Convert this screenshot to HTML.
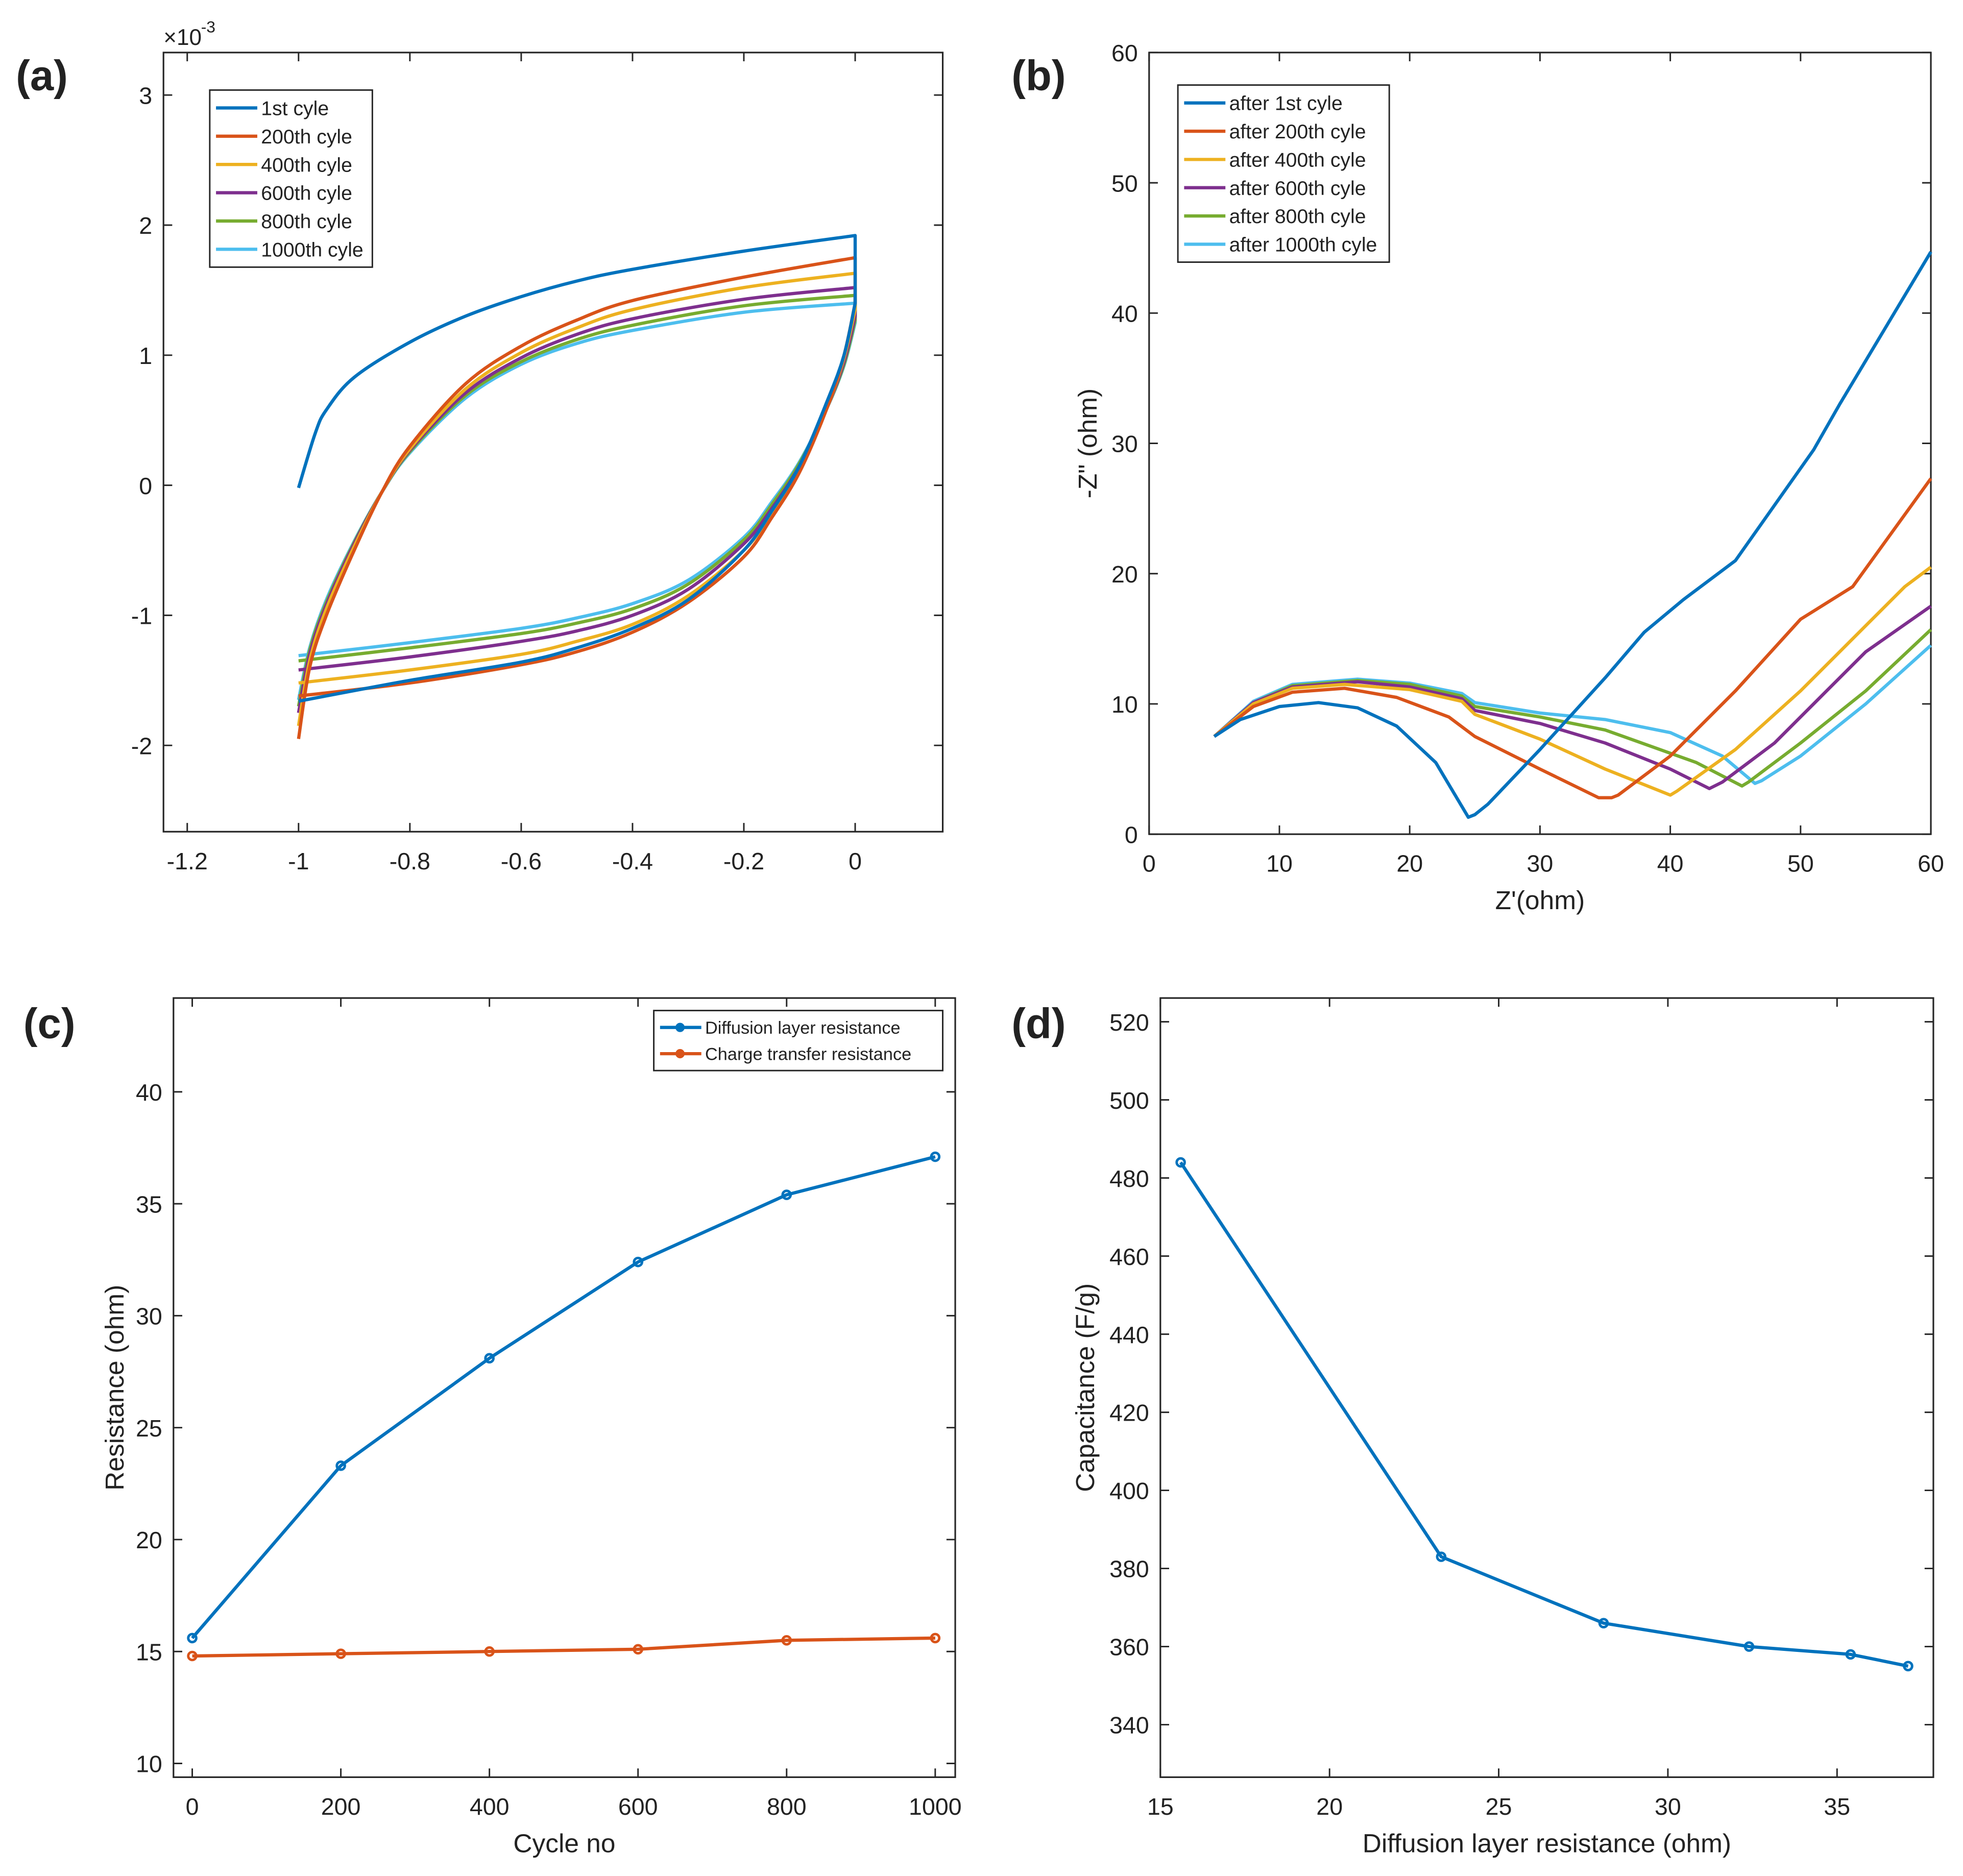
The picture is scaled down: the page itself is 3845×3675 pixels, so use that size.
<!DOCTYPE html>
<html><head><meta charset="utf-8"><style>
html,body{margin:0;padding:0;background:#fff}
svg{display:block}
text{font-family:"Liberation Sans",Arial,sans-serif;fill:#222}
</style></head><body>
<svg id="root" width="3845" height="3675" viewBox="0 0 1568 1500" xmlns="http://www.w3.org/2000/svg"></svg>
<script>
const C=['#0072BD','#D95319','#EDB120','#7E2F8E','#77AC30','#4DBEEE'];
// ---- panel (a) CV data ----
const cvNames=['1st cyle','200th cyle','400th cyle','600th cyle','800th cyle','1000th cyle'];
const cvX=[
[-1,-0.97,-0.95,-0.9,-0.8,-0.7,-0.6,-0.5,-0.4,-0.2,0,0,-0.02,-0.05,-0.1,-0.15,-0.2,-0.3,-0.4,-0.5,-0.6,-0.8,-1],
[-1,-0.98,-0.95,-0.9,-0.85,-0.8,-0.7,-0.6,-0.5,-0.4,-0.2,0,0,-0.02,-0.05,-0.1,-0.15,-0.2,-0.3,-0.4,-0.5,-0.6,-0.8,-1],
[-1,-0.98,-0.95,-0.9,-0.85,-0.8,-0.7,-0.6,-0.5,-0.4,-0.2,0,0,-0.02,-0.05,-0.1,-0.15,-0.2,-0.3,-0.4,-0.5,-0.6,-0.8,-1],
[-1,-0.98,-0.95,-0.9,-0.85,-0.8,-0.7,-0.6,-0.5,-0.4,-0.2,0,0,-0.02,-0.05,-0.1,-0.15,-0.2,-0.3,-0.4,-0.5,-0.6,-0.8,-1],
[-1,-0.98,-0.95,-0.9,-0.85,-0.8,-0.7,-0.6,-0.5,-0.4,-0.2,0,0,-0.02,-0.05,-0.1,-0.15,-0.2,-0.3,-0.4,-0.5,-0.6,-0.8,-1],
[-1,-0.98,-0.95,-0.9,-0.85,-0.8,-0.7,-0.6,-0.5,-0.4,-0.2,0,0,-0.02,-0.05,-0.1,-0.15,-0.2,-0.3,-0.4,-0.5,-0.6,-0.8,-1]];
const cvY=[
[-0.02,0.4,0.58,0.83,1.1,1.3,1.45,1.57,1.66,1.8,1.92,1.4,1.0,0.65,0.15,-0.2,-0.5,-0.88,-1.1,-1.25,-1.36,-1.5,-1.66],
[-1.95,-1.4,-1.0,-0.5,-0.05,0.3,0.78,1.07,1.27,1.42,1.6,1.75,1.4,1.0,0.6,0.1,-0.25,-0.55,-0.9,-1.13,-1.28,-1.38,-1.52,-1.62],
[-1.85,-1.35,-0.95,-0.47,-0.05,0.28,0.74,1.02,1.21,1.35,1.52,1.63,1.35,0.98,0.6,0.12,-0.22,-0.5,-0.85,-1.07,-1.2,-1.3,-1.42,-1.52],
[-1.75,-1.3,-0.92,-0.45,-0.05,0.27,0.71,0.98,1.16,1.28,1.43,1.52,1.3,0.95,0.6,0.15,-0.18,-0.45,-0.8,-1.0,-1.12,-1.2,-1.32,-1.42],
[-1.7,-1.27,-0.9,-0.44,-0.05,0.26,0.69,0.95,1.12,1.23,1.38,1.46,1.27,0.93,0.6,0.17,-0.15,-0.42,-0.76,-0.95,-1.06,-1.14,-1.25,-1.35],
[-1.65,-1.25,-0.88,-0.43,-0.05,0.25,0.67,0.93,1.09,1.19,1.33,1.4,1.25,0.92,0.6,0.18,-0.13,-0.4,-0.73,-0.91,-1.02,-1.1,-1.21,-1.31]];
// ---- panel (b) EIS ----
const eisNames=['after 1st cyle','after 200th cyle','after 400th cyle','after 600th cyle','after 800th cyle','after 1000th cyle'];
const eisX=[
[5,7,10,13,16,19,22,24.5,25,26,30,35,38,41,45,51,53,60],
[5,8,11,15,19,23,25,30,34.5,35.5,36,40,45,50,54,60],
[5,8,11,15,20,24,25,30,35,40,40.5,45,50,55,58,60],
[5,8,11,16,20,24,25,30,35,40,43,44,48,52,55,60],
[5,8,11,16,20,24,25,30,35,42,45.5,46,50,55,60],
[5,8,11,16,20,24,25,30,35,40,44,46.5,47,50,55,60]];
const eisY=[
[7.5,8.8,9.8,10.1,9.7,8.3,5.5,1.3,1.5,2.3,6.5,12,15.5,18,21,29.5,33,44.7],
[7.5,9.8,10.9,11.2,10.5,9,7.5,5,2.8,2.8,3,6,11,16.5,19,27.3],
[7.5,10,11.2,11.5,11.1,10.2,9.2,7.3,5,3,3.3,6.5,11,16,19,20.5],
[7.5,10.1,11.3,11.7,11.3,10.4,9.5,8.5,7,5,3.5,4,7,11,14,17.5],
[7.5,10.1,11.4,11.8,11.5,10.6,9.8,9,8,5.5,3.7,4,7,11,15.7],
[7.5,10.2,11.5,11.9,11.6,10.8,10.1,9.3,8.8,7.8,6,3.9,4.1,6,10,14.5]];
// ---- panel (c) ----
const cycles=[0,200,400,600,800,1000];
const diffusion=[15.6,23.3,28.1,32.4,35.4,37.1];
const chargeTransfer=[14.8,14.9,15.0,15.1,15.5,15.6];
// ---- panel (d) ----
const capacitance=[484,383,366,360,358,355];

const svg=document.getElementById('root');
const NS='http://www.w3.org/2000/svg';
function el(tag,attrs,parent){const e=document.createElementNS(NS,tag);for(const k in attrs)e.setAttribute(k,attrs[k]);(parent||svg).appendChild(e);return e;}
function txt(s,x,y,attrs,parent){const t=el('text',Object.assign({x:x,y:y},attrs),parent);t.textContent=s;return t;}
function lin(d0,d1,p0,p1){return v=>p0+(v-d0)*(p1-p0)/(d1-d0);}

function axes(name,box,xs,ys,xt,yt,xl,yl){
  const g=el('g',{});
  
  
  const r=el('rect',{x:box[0],y:box[1],width:box[2]-box[0],height:box[3]-box[1],fill:'none',stroke:'#262626','stroke-width':1.3},g);
  
  
  xt.forEach(v=>{const x=xs(v);
    el('line',{x1:x,x2:x,y1:box[3],y2:box[3]-7,stroke:'#262626','stroke-width':1.2},g);
    el('line',{x1:x,x2:x,y1:box[1],y2:box[1]+7,stroke:'#262626','stroke-width':1.2},g);
    const t=txt(String(v),x,box[3]+30,{'font-size':19,'text-anchor':'middle'},g);
    
    });
  yt.forEach(v=>{const y=ys(v);
    el('line',{x1:box[0],x2:box[0]+7,y1:y,y2:y,stroke:'#262626','stroke-width':1.2},g);
    el('line',{x1:box[2],x2:box[2]-7,y1:y,y2:y,stroke:'#262626','stroke-width':1.2},g);
    const t=txt(String(v),box[0]-9,y+7,{'font-size':19,'text-anchor':'end'},g);
    
    });
  if(xl){const t=txt(xl,(box[0]+box[2])/2,box[3]+60,{'font-size':21,'text-anchor':'middle'},g);
    
    }
  if(yl){const cx=yl[1],cy=(box[1]+box[3])/2;const t=txt(yl[0],cx,cy,{'font-size':21,'text-anchor':'middle',transform:`rotate(-90 ${cx} ${cy})`},g);
    
    }
  return g;
}
function smoothPath(P){
  let d='M'+P[0][0].toFixed(2)+','+P[0][1].toFixed(2);
  for(let i=0;i<P.length-1;i++){
    const p0=P[Math.max(0,i-1)],p1=P[i],p2=P[i+1],p3=P[Math.min(P.length-1,i+2)];
    // break smoothing at sharp corner (vertical segment at x=0)
    const c1=[p1[0]+(p2[0]-p0[0])/6,p1[1]+(p2[1]-p0[1])/6];
    const c2=[p2[0]-(p3[0]-p1[0])/6,p2[1]-(p3[1]-p1[1])/6];
    d+=' C'+c1[0].toFixed(2)+','+c1[1].toFixed(2)+' '+c2[0].toFixed(2)+','+c2[1].toFixed(2)+' '+p2[0].toFixed(2)+','+p2[1].toFixed(2);
  }
  return d;
}
function series(xsArr,ysArr,xs,ys,color,name,marker,smooth){
  let p;
  if(smooth){
    const P=xsArr.map((v,i)=>[xs(v),ys(ysArr[i])]);
    // split at the repeated x=0 corner to keep it sharp
    const k=xsArr.findIndex((v,i)=>i>0&&v===xsArr[i-1]);
    const d=k>0?smoothPath(P.slice(0,k))+' L'+P[k][0].toFixed(2)+','+P[k][1].toFixed(2)+' '+smoothPath(P.slice(k)).replace(/^M/,'L'):smoothPath(P);
    p=el('path',{d:d,fill:'none',stroke:color,'stroke-width':2.6,'stroke-linejoin':'round'});
  } else {
    const pts=xsArr.map((v,i)=>xs(v).toFixed(2)+','+ys(ysArr[i]).toFixed(2)).join(' ');
    p=el('polyline',{points:pts,fill:'none',stroke:color,'stroke-width':2.6,'stroke-linejoin':'round'});
  }
  
  
  if(marker)xsArr.forEach((v,i)=>{const c=el('circle',{cx:xs(v),cy:ys(ysArr[i]),r:3.2,fill:'none',stroke:color,'stroke-width':2});
    
    });
}
function legend(name,x,y,w,rowH,names,fs,marker){
  const g=el('g',{});
  
  
  el('rect',{x:x,y:y,width:w,height:rowH*names.length+6,fill:'#fff',stroke:'#262626','stroke-width':1.2},g);
  names.forEach((n,i)=>{const yy=y+3+rowH*(i+0.5);
    el('line',{x1:x+5,x2:x+38,y1:yy,y2:yy,stroke:C[i],'stroke-width':2.6},g);
    if(marker)el('circle',{cx:x+21,cy:yy,r:3.2,fill:C[i],stroke:C[i]},g);
    const t=txt(n,x+41,yy+fs*0.36,{'font-size':fs},g);
    
    });
}
function plabel(s,x,y){const t=txt(s,x,y,{'font-size':34,'font-weight':'bold',fill:'#000'});
  
  }

// (a)
{const box=[130,42,753,665];
 const xs=lin(-1,0,238,683), ys=lin(0,2,388,180);
 axes('panel-a-axes',box,xs,ys,[-1.2,-1,-0.8,-0.6,-0.4,-0.2,0],[-2,-1,0,1,2,3]);
 const m=txt('×10',130,36,{'font-size':18});
 txt('-3',160,26,{'font-size':13});
 for(let i=5;i>=0;i--)series(cvX[i],cvY[i],xs,ys,C[i],'cv-'+i,false,true);
 legend('legend-a',167,72,130,22.6,cvNames,16,false);
 plabel('(a)',12,72);}
// (b)
{const box=[918,42,1543,667];
 const xs=lin(0,60,918,1543), ys=lin(0,60,667,42);
 axes('panel-b-axes',box,xs,ys,[0,10,20,30,40,50,60],[0,10,20,30,40,50,60],"Z'(ohm)",['-Z" (ohm)',876]);
 for(let i=5;i>=0;i--)series(eisX[i],eisY[i],xs,ys,C[i],'eis-'+i);
 legend('legend-b',941,68,169,22.6,eisNames,16,false);
 plabel('(b)',808,72);}
// (c)
{const box=[138,798,763,1421];
 const xs=lin(0,1000,153,747), ys=lin(10,40,1410,873);
 axes('panel-c-axes',box,xs,ys,[0,200,400,600,800,1000],[10,15,20,25,30,35,40],'Cycle no',['Resistance (ohm)',98]);
 series(cycles,diffusion,xs,ys,C[0],'diffusion-line',true);
 series(cycles,chargeTransfer,xs,ys,C[1],'charge-transfer-line',true);
 legend('legend-c',522,808,231,21,['Diffusion layer resistance','Charge transfer resistance'],14,true);
 plabel('(c)',18,830);}
// (d)
{const box=[927,798,1545,1421];
 const xs=lin(15,35,927,1468), ys=lin(340,520,1379,817);
 axes('panel-d-axes',box,xs,ys,[15,20,25,30,35],[340,360,380,400,420,440,460,480,500,520],'Diffusion layer resistance (ohm)',['Capacitance (F/g)',874]);
 series(diffusion,capacitance,xs,ys,C[0],'capacitance-line',true);
 plabel('(d)',808,830);}
</script>
</body></html>
